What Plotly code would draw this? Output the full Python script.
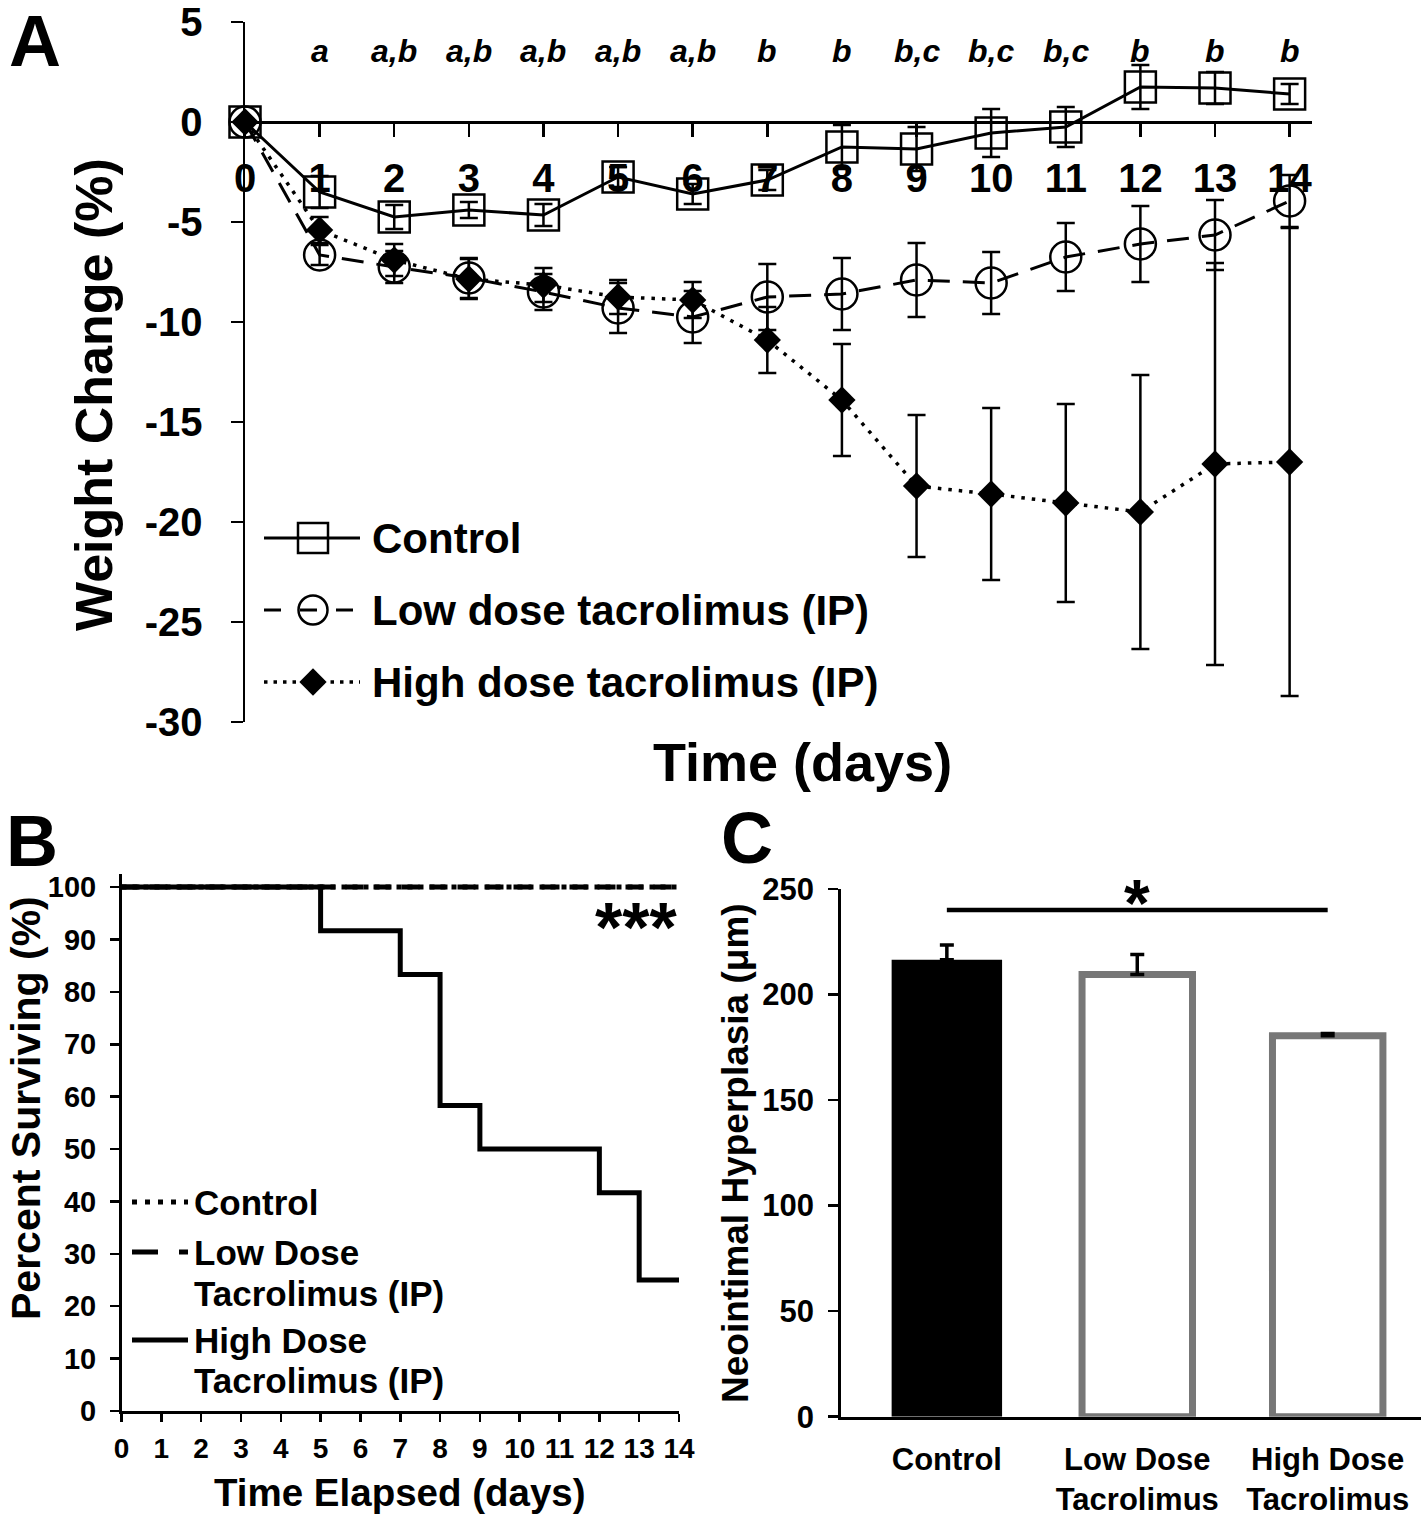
import plotly.graph_objects as go

W, H = 1423, 1519
FONT = "Liberation Sans, Arial, Helvetica, sans-serif"

# ---------------- Panel A data ----------------
days = list(range(15))
day_labels = [str(d) for d in days]
control_mean = [0, -3.5, -4.75, -4.4, -4.65, -2.75, -3.6, -2.9, -1.25, -1.35, -0.55, -0.25, 1.75, 1.7, 1.4]
control_err = [0.0, 0.8, 0.6, 0.4, 0.55, 0.5, 0.5, 0.5, 1.1, 1.1, 1.2, 1.0, 1.1, 0.8, 0.5]
low_mean = [0, -6.65, -7.25, -7.8, -8.5, -9.3, -9.75, -8.75, -8.6, -7.9, -8.05, -6.75, -6.1, -5.65, -3.95]
low_err = [0.0, 0.5, 0.8, 1.0, 0.9, 1.25, 1.3, 1.65, 1.8, 1.85, 1.55, 1.7, 1.9, 1.75, 1.3]
high_mean = [0, -5.4, -6.9, -7.85, -8.15, -8.75, -8.9, -10.9, -13.9, -18.2, -18.6, -19.05, -19.5, -17.1, -17.0]
high_err = [0.0, 0.65, 0.8, 1.0, 0.85, 0.85, 0.9, 1.65, 2.8, 3.55, 4.3, 4.95, 6.85, 10.05, 11.7]
sig_letters = ["", "a", "a,b", "a,b", "a,b", "a,b", "a,b", "b", "b", "b,c", "b,c", "b,c", "b", "b", "b"]
a_yticks = [5, 0, -5, -10, -15, -20, -25, -30]
a_yticklabels = ["5", "0", "-5", "-10", "-15", "-20", "-25", "-30"]
a_series_names = ["Control", "Low dose tacrolimus (IP)", "High dose tacrolimus (IP)"]

# ---------------- Panel B data ----------------
surv_days_ctrl = [0, 14]
surv_ctrl = [100, 100]
surv_days_low = [0, 14]
surv_low = [100, 100]
surv_days_high = [0, 5, 7, 8, 9, 12, 13, 14]
surv_high = [100, 91.67, 83.33, 58.33, 50, 41.67, 25, 25]
b_xticks = list(range(15))
b_yticks = list(range(0, 101, 10))
b_series_names = ["Control", "Low Dose<br>Tacrolimus (IP)", "High Dose<br>Tacrolimus (IP)"]

# ---------------- Panel C data ----------------
groups = ["Control", "Low Dose<br>Tacrolimus", "High Dose<br>Tacrolimus"]
nh_mean = [216.5, 209.5, 180.5]
nh_err = [7, 9.5, 1]
c_yticks = [0, 50, 100, 150, 200, 250]
sig_y = 240


def fx(p):
    return p / W


def fy(p):
    return 1 - p / H


def bold(size):
    return dict(family=FONT, size=size, color="black", weight="bold")


fig = go.Figure()

# ---- Panel A traces ----
fig.add_trace(go.Scatter(
    x=days, y=control_mean, mode="lines+markers", xaxis="x", yaxis="y", name=a_series_names[0],
    error_y=dict(type="data", array=control_err, color="black", thickness=2.5, width=9),
    line=dict(color="black", width=3),
    marker=dict(symbol="square-open", size=31, color="black", line=dict(width=2.5)),
    showlegend=False, cliponaxis=False))
fig.add_trace(go.Scatter(
    x=days, y=low_mean, mode="lines+markers", xaxis="x", yaxis="y", name=a_series_names[1],
    error_y=dict(type="data", array=low_err, color="black", thickness=2.5, width=9),
    line=dict(color="black", width=3, dash="22px,13px"),
    marker=dict(symbol="circle-open", size=31, color="black", line=dict(width=2.5)),
    showlegend=False, cliponaxis=False))
fig.add_trace(go.Scatter(
    x=days, y=high_mean, mode="lines+markers", xaxis="x", yaxis="y", name=a_series_names[2],
    error_y=dict(type="data", array=high_err, color="black", thickness=2.5, width=9),
    line=dict(color="black", width=3.5, dash="3.5px,7px"),
    marker=dict(symbol="diamond", size=21, color="black"),
    showlegend=False, cliponaxis=False))

# ---- Legend keys (drawn on a hidden pixel-space axis) ----
a_leg_rows = [538, 610, 682]
a_leg_styles = [
    (dict(color="black", width=3), dict(symbol="square-open", size=30, color="black", line=dict(width=2.5))),
    (dict(color="black", width=3, dash="17px,19px"), dict(symbol="circle-open", size=29, color="black", line=dict(width=2.5))),
    (dict(color="black", width=3.5, dash="3.5px,6px"), dict(symbol="diamond", size=21, color="black")),
]
for ry, (ln, mk) in zip(a_leg_rows, a_leg_styles):
    fig.add_trace(go.Scatter(x=[264, 360], y=[ry, ry], mode="lines", line=ln,
                             xaxis="x4", yaxis="y4", showlegend=False, hoverinfo="skip"))
    fig.add_trace(go.Scatter(x=[313], y=[ry], mode="markers", marker=mk,
                             xaxis="x4", yaxis="y4", showlegend=False, hoverinfo="skip"))

b_leg_rows = [1202, 1252, 1340]
b_leg_dash = ["5px,8px", "26px,21px", "solid"]
for ry, dsh in zip(b_leg_rows, b_leg_dash):
    fig.add_trace(go.Scatter(x=[132, 188], y=[ry, ry], mode="lines",
                             line=dict(color="black", width=5, dash=dsh),
                             xaxis="x4", yaxis="y4", showlegend=False, hoverinfo="skip"))

# ---- Panel B traces ----
fig.add_trace(go.Scatter(
    x=surv_days_ctrl, y=surv_ctrl, mode="lines", name=b_series_names[0], xaxis="x2", yaxis="y2",
    line=dict(color="black", width=5, dash="5px,6px", shape="hv"), cliponaxis=False, showlegend=False))
fig.add_trace(go.Scatter(
    x=surv_days_low, y=surv_low, mode="lines", name=b_series_names[1], xaxis="x2", yaxis="y2",
    line=dict(color="black", width=5, dash="18px,10px", shape="hv"), cliponaxis=False, showlegend=False))
fig.add_trace(go.Scatter(
    x=surv_days_high, y=surv_high, mode="lines", name=b_series_names[2], xaxis="x2", yaxis="y2",
    line=dict(color="black", width=5, shape="hv"), cliponaxis=False, showlegend=False))

# ---- Panel C trace ----
fig.add_trace(go.Bar(
    x=groups, y=nh_mean, width=0.58, xaxis="x3", yaxis="y3",
    marker=dict(color=["black", "white", "white"],
                line=dict(color=["black", "#777777", "#777777"], width=[0, 7, 7])),
    error_y=dict(type="data", symmetric=False, array=nh_err, arrayminus=[0, 0, 0],
                 color="black", thickness=3.5, width=7),
    showlegend=False))

C = dict(xanchor="center", yanchor="middle", showarrow=False)
annotations = []
# significance letters in A
for d, s in zip(days, sig_letters):
    if s:
        annotations.append(dict(x=d, y=3.55, xref="x", yref="y", text=s, **C,
                                font=dict(family=FONT, size=32, color="black", weight="bold", style="italic")))
# legend text A
for ry, name in zip(a_leg_rows, a_series_names):
    annotations.append(dict(x=fx(370), y=fy(ry), xref="paper", yref="paper", text=name,
                            showarrow=False, xanchor="left", yanchor="middle", font=bold(42)))
# legend text B (one annotation per text line)
b_line_rows = [[1202], [1252, 1293], [1340, 1380]]
for rows, name in zip(b_line_rows, b_series_names):
    for ry, part in zip(rows, name.split("<br>")):
        annotations.append(dict(x=fx(192), y=fy(ry), xref="paper", yref="paper", text=part,
                                showarrow=False, xanchor="left", yanchor="middle", font=bold(35)))
# axis titles
annotations += [
    dict(x=fx(802), y=fy(762), xref="paper", yref="paper", text="Time (days)", **C, font=bold(54)),
    dict(x=fx(94), y=fy(395), xref="paper", yref="paper", text="Weight Change (%)", **C,
         textangle=-90, font=bold(52)),
    dict(x=fx(400), y=fy(1492), xref="paper", yref="paper", text="Time Elapsed (days)", **C, font=bold(38.5)),
    dict(x=fx(26), y=fy(1108), xref="paper", yref="paper", text="Percent Surviving (%)", **C,
         textangle=-90, font=bold(41)),
    dict(x=fx(735), y=fy(1153), xref="paper", yref="paper", text="Neointimal Hyperplasia (μm)", **C,
         textangle=-90, font=bold(37)),
    # panel letters
    dict(x=fx(35), y=fy(41), xref="paper", yref="paper", text="A", **C, font=bold(72)),
    dict(x=fx(32), y=fy(841), xref="paper", yref="paper", text="B", **C, font=bold(72)),
    dict(x=fx(747), y=fy(838), xref="paper", yref="paper", text="C", **C, font=bold(72)),
    # significance
    dict(x=14, y=92.2, xref="x2", yref="y2", text="***", showarrow=False, xanchor="right",
         yanchor="middle", font=bold(70)),
    dict(x=1, y=243.2, xref="x3", yref="y3", text="*", **C, font=bold(66)),
]

shapes = [dict(type="line", xref="x3", yref="y3", x0=0, x1=2, y0=sig_y, y1=sig_y,
               line=dict(color="black", width=4.5))]

axis_common = dict(showgrid=False, zeroline=False, showline=True, linecolor="black",
                   tickcolor="black", ticks="outside", automargin=False)

fig.update_layout(
    width=W, height=H, margin=dict(l=0, r=0, t=0, b=0, pad=0, autoexpand=False),
    paper_bgcolor="white", plot_bgcolor="rgba(0,0,0,0)",
    font=dict(family=FONT, color="black"),
    annotations=annotations, shapes=shapes, showlegend=False,
    xaxis=dict(**axis_common, domain=[fx(245), fx(1312)], range=[0, 14.3], anchor="free",
               position=fy(122), tickvals=days, ticktext=day_labels, ticklen=13, tickwidth=2.5,
               linewidth=2.5, tickfont=bold(40), ticklabelstandoff=7),
    yaxis=dict(**axis_common, domain=[fy(722), fy(22)], range=[-30, 5], anchor="x",
               tickvals=a_yticks, ticktext=a_yticklabels, ticklen=12, tickwidth=2.5,
               linewidth=2.5, tickfont=bold(40), ticklabelstandoff=20),
    xaxis2=dict(**axis_common, domain=[fx(121.5), fx(679)], range=[0, 14], anchor="y2",
                tickvals=b_xticks, ticklen=8, tickwidth=2.5, linewidth=2.5,
                tickfont=bold(28), ticklabelstandoff=3),
    yaxis2=dict(**axis_common, domain=[fy(1411), fy(874)], range=[0, 102.5], anchor="x2",
                tickvals=b_yticks, ticklen=9, tickwidth=2.5, linewidth=2.5,
                tickfont=bold(29), ticklabelstandoff=8),
    xaxis3=dict(showgrid=False, zeroline=False, showline=True, linecolor="black", linewidth=3,
                automargin=False, ticks="", domain=[fx(840.6), fx(1421)], range=[-0.558, 2.49],
                anchor="y3", type="category", tickfont=bold(31), ticklabelstandoff=13),
    yaxis3=dict(**axis_common, domain=[fy(1416.7), fy(889)], range=[0, 250], anchor="x3",
                tickvals=c_yticks, ticklen=10, tickwidth=2.5, linewidth=2.5,
                tickfont=bold(31), ticklabelstandoff=8),
    xaxis4=dict(domain=[0, 1], range=[0, W], visible=False, anchor="y4", fixedrange=True, automargin=False),
    yaxis4=dict(domain=[0, 1], range=[H, 0], visible=False, anchor="x4", fixedrange=True, automargin=False),
)

fig.write_html("out.html", config={"displayModeBar": False, "staticPlot": True},
               post_script="document.body.style.margin='0px';")
